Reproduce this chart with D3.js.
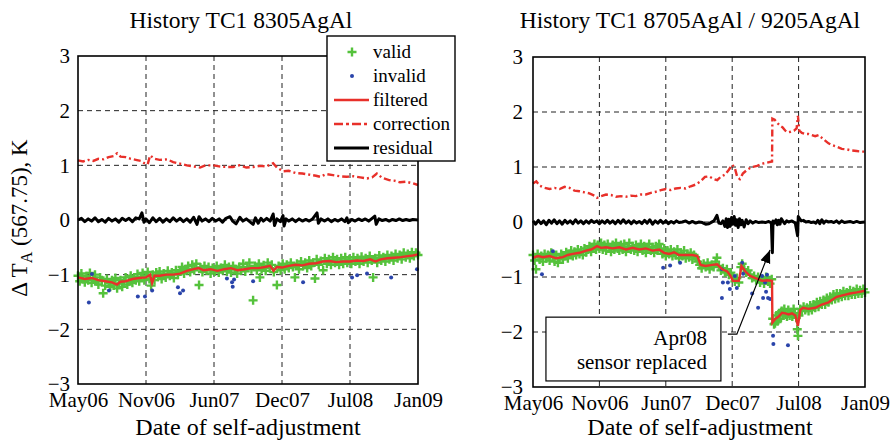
<!DOCTYPE html>
<html lang="en">
<head>
<meta charset="UTF-8">
<title>History TC1</title>
<script src="https://d3js.org/d3.v7.min.js"></script>
<style>
  body { margin: 0; background: #fff; }
  svg { font-family: "Liberation Serif", "Times New Roman", serif; }
  .grid line { stroke: #222; stroke-width: 1; stroke-dasharray: 5,4; }
  .axis text { font-family: "Liberation Serif", "Times New Roman", serif; font-size: 21px; fill: #000; }
</style>
</head>
<body>
<svg width="893" height="440"></svg>
<script>
// x values are days after 1 May 2006, ticks every 200 days
const tickDays = [0, 200, 400, 600, 800, 1000];
const tickLabels = ["May06", "Nov06", "Jun07", "Dec07", "Jul08", "Jan09"];
const yTicks = [-3, -2, -1, 0, 1, 2, 3];
const legendLabels = ["valid", "invalid", "filtered", "correction", "residual"];
const titles = ["History TC1 8305AgAl", "History TC1 8705AgAl / 9205AgAl"];

// ---- left panel
const leftCorrection = [[0,1.09],[15,1.07],[30,1.10],[45,1.08],[60,1.12],[75,1.11],[90,1.15],[105,1.17],[115,1.22],[125,1.16],[140,1.15],[155,1.12],[170,1.10],[185,1.08],[195,1.04],[205,1.02],[212,1.18],[225,1.12],[240,1.10],[262,1.11],[280,1.06],[300,1.03],[320,1.00],[340,0.98],[359,0.96],[375,1.00],[397,1.00],[415,0.98],[435,0.97],[456,0.97],[475,1.00],[495,0.96],[515,0.97],[535,0.99],[555,0.98],[574,1.04],[585,0.96],[603,0.89],[620,0.90],[640,0.86],[660,0.85],[680,0.83],[700,0.81],[712,0.79],[730,0.84],[750,0.82],[770,0.80],[790,0.79],[810,0.80],[830,0.78],[850,0.76],[865,0.78],[879,0.85],[895,0.77],[915,0.73],[930,0.72],[947,0.69],[965,0.70],[985,0.67],[1000,0.64]];

const leftResidual = [[0,0.0],[10,0.03],[20,-0.03],[30,0.02],[40,-0.02],[50,0.04],[60,-0.03],[70,0.01],[80,-0.04],[90,0.03],[100,-0.02],[110,0.02],[120,-0.04],[130,0.03],[140,-0.01],[150,0.03],[160,-0.03],[170,0.04],[180,0.02],[188,0.13],[194,-0.04],[200,0.02],[210,-0.05],[220,0.04],[230,-0.03],[240,0.03],[250,-0.04],[260,0.02],[270,-0.03],[280,0.04],[290,-0.02],[300,0.03],[310,-0.03],[320,0.02],[330,-0.04],[340,0.05],[350,-0.08],[356,0.06],[365,-0.02],[375,0.02],[385,-0.03],[395,0.03],[405,-0.02],[415,0.02],[425,-0.04],[435,0.03],[447,0.06],[455,-0.02],[465,-0.07],[476,0.05],[485,-0.02],[495,0.02],[505,-0.03],[515,-0.08],[522,0.04],[530,-0.06],[538,0.03],[545,-0.02],[555,0.03],[565,-0.02],[574,0.11],[578,-0.1],[585,0.02],[595,-0.03],[603,0.08],[606,-0.11],[612,0.02],[620,-0.02],[630,0.02],[640,-0.03],[650,0.02],[660,-0.02],[670,0.01],[680,-0.02],[690,0.02],[703,0.13],[707,-0.06],[715,0.02],[725,-0.02],[735,0.02],[745,-0.03],[755,0.01],[765,-0.02],[775,0.02],[785,-0.03],[791,0.04],[795,-0.05],[805,0.01],[815,-0.02],[825,0.02],[835,-0.01],[845,0.02],[855,-0.02],[865,0.03],[873,0.07],[877,-0.08],[885,0.02],[895,-0.01],[905,0.01],[915,-0.02],[925,0.01],[935,-0.01],[945,0.02],[955,-0.01],[965,0.01],[975,-0.01],[985,0.01],[1000,0.0]];

const leftFiltered = [[0,-1.05],[20,-1.08],[40,-1.06],[60,-1.10],[80,-1.12],[100,-1.14],[115,-1.18],[125,-1.13],[140,-1.12],[160,-1.08],[180,-1.06],[200,-1.05],[212,-1.0],[218,-1.15],[225,-1.02],[240,-1.02],[260,-1.0],[280,-1.0],[300,-0.98],[320,-0.93],[340,-0.9],[355,-0.88],[370,-0.92],[390,-0.9],[410,-0.93],[430,-0.9],[450,-0.88],[470,-0.92],[490,-0.9],[510,-0.88],[530,-0.88],[550,-0.86],[565,-0.84],[575,-0.93],[585,-0.86],[600,-0.87],[620,-0.84],[640,-0.82],[660,-0.83],[680,-0.8],[700,-0.79],[720,-0.76],[740,-0.75],[760,-0.77],[780,-0.76],[800,-0.76],[820,-0.74],[840,-0.75],[860,-0.72],[875,-0.76],[890,-0.72],[910,-0.7],[930,-0.69],[950,-0.68],[970,-0.66],[985,-0.65],[1000,-0.63]];

const leftValid = [[0,-1.02],[5,-1.12],[10,-0.98],[15,-1.08],[20,-1.14],[25,-1.03],[30,-1.1],[35,-0.97],[40,-1.15],[45,-1.06],[50,-1.0],[55,-1.12],[60,-1.18],[65,-1.05],[70,-1.1],[74,-1.34],[80,-1.2],[85,-1.08],[90,-1.15],[95,-1.22],[100,-1.1],[105,-1.2],[110,-1.06],[115,-1.25],[120,-1.16],[125,-1.1],[130,-1.22],[135,-1.12],[140,-1.05],[145,-1.18],[150,-1.12],[155,-1.02],[160,-1.15],[165,-1.06],[170,-1.1],[175,-0.99],[180,-1.12],[185,-1.04],[190,-0.97],[195,-1.1],[200,-1.02],[205,-0.95],[210,-1.08],[215,-1.2],[220,-1.0],[225,-1.1],[230,-0.96],[235,-1.04],[240,-0.94],[246,-1.08],[252,-0.98],[258,-1.05],[264,-0.93],[270,-1.02],[276,-0.96],[282,-1.06],[288,-0.92],[294,-1.0],[300,-0.94],[306,-0.86],[312,-0.98],[318,-0.9],[324,-0.84],[330,-0.95],[336,-0.82],[342,-0.92],[348,-0.8],[356,-1.19],[360,-0.87],[366,-0.95],[372,-0.84],[378,-0.92],[384,-0.86],[390,-0.98],[396,-0.88],[402,-0.94],[408,-0.84],[414,-0.96],[420,-0.88],[426,-0.92],[432,-0.82],[438,-0.94],[444,-0.86],[450,-0.96],[456,-0.84],[462,-0.9],[468,-0.98],[474,-0.86],[480,-0.92],[486,-0.8],[492,-0.94],[498,-0.86],[504,-0.78],[510,-0.9],[515,-1.47],[520,-0.84],[526,-0.92],[532,-0.8],[535,-1.05],[540,-0.9],[546,-0.83],[552,-0.93],[558,-0.78],[564,-0.88],[570,-0.82],[576,-0.95],[585,-1.19],[590,-0.84],[596,-0.92],[602,-0.8],[608,-0.9],[614,-0.82],[620,-0.88],[626,-0.78],[632,-0.86],[638,-1.05],[644,-0.8],[650,-0.9],[656,-0.76],[662,-0.84],[668,-0.78],[674,-0.88],[680,-0.74],[686,-0.84],[692,-0.78],[697,-1.07],[702,-0.72],[708,-0.82],[714,-0.75],[721,-0.92],[726,-0.7],[732,-0.8],[738,-0.72],[744,-0.82],[750,-0.68],[756,-0.78],[762,-0.72],[768,-0.82],[774,-0.7],[780,-0.8],[786,-0.68],[792,-0.78],[798,-0.72],[804,-0.8],[810,-0.68],[816,-0.76],[822,-0.7],[828,-0.8],[834,-0.67],[840,-0.76],[846,-0.7],[852,-0.78],[858,-0.66],[864,-0.74],[868,-1.05],[874,-0.7],[880,-0.78],[886,-0.65],[892,-0.74],[898,-0.68],[904,-0.76],[910,-0.64],[916,-0.72],[922,-0.66],[928,-0.74],[934,-0.62],[940,-0.7],[946,-0.64],[952,-0.72],[958,-0.6],[964,-0.68],[970,-0.62],[976,-0.7],[982,-0.59],[988,-0.66],[994,-0.6],[1000,-0.64]];

const leftInvalid = [[41,-0.99],[32,-1.51],[91,-1.29],[176,-1.40],[197,-1.40],[218,-1.29],[294,-1.23],[300,-1.34],[309,-1.29],[438,-1.07],[453,-1.14],[459,-1.09],[455,-1.22],[515,-1.12],[662,-1.14],[806,-1.05],[821,-1.01],[850,-0.98],[921,-1.05],[997,-0.9]];

// ---- right panel
const rightCorrection = [[0,0.70],[10,0.74],[20,0.66],[35,0.62],[50,0.60],[65,0.62],[80,0.60],[95,0.64],[110,0.62],[125,0.57],[140,0.56],[155,0.54],[170,0.52],[185,0.48],[193,0.44],[205,0.47],[220,0.50],[235,0.49],[250,0.46],[265,0.47],[280,0.46],[295,0.48],[310,0.47],[325,0.50],[340,0.50],[355,0.53],[370,0.55],[385,0.58],[400,0.60],[415,0.58],[430,0.61],[445,0.62],[460,0.61],[475,0.65],[490,0.68],[505,0.74],[518,0.82],[530,0.83],[545,0.78],[555,0.76],[565,0.82],[578,0.86],[590,0.95],[600,1.04],[608,0.98],[615,0.82],[623,0.78],[632,0.88],[645,0.95],[660,1.0],[675,1.02],[690,1.06],[705,1.08],[720,1.10],[721,1.88],[728,1.86],[736,1.80],[744,1.75],[752,1.72],[760,1.66],[768,1.63],[776,1.64],[786,1.66],[794,1.70],[798,1.93],[802,1.66],[810,1.62],[820,1.60],[830,1.60],[840,1.58],[850,1.56],[860,1.58],[870,1.53],[880,1.48],[890,1.43],[900,1.40],[915,1.37],[930,1.33],[945,1.32],[960,1.30],[975,1.29],[990,1.28],[1000,1.28]];

const rightResidual = [[0,0.02],[8,-0.04],[16,0.03],[24,-0.03],[32,0.02],[40,-0.05],[48,0.03],[56,-0.02],[64,0.04],[72,-0.03],[80,0.02],[88,-0.04],[96,0.03],[104,-0.02],[112,0.02],[120,-0.03],[128,0.04],[136,-0.02],[144,0.02],[152,-0.03],[160,0.02],[168,-0.02],[176,0.03],[184,-0.01],[192,0.02],[200,-0.03],[208,0.02],[216,-0.02],[224,0.03],[232,-0.02],[240,0.02],[248,-0.03],[256,0.03],[264,-0.02],[272,0.04],[280,-0.02],[288,0.02],[296,-0.03],[304,0.02],[312,-0.02],[320,0.01],[328,-0.03],[336,0.03],[344,-0.02],[352,0.04],[360,-0.04],[368,0.02],[376,-0.02],[384,0.03],[392,-0.02],[400,0.02],[408,-0.03],[416,0.01],[424,-0.02],[432,0.02],[440,-0.01],[450,0.0],[460,0.02],[470,-0.02],[480,0.01],[490,-0.02],[500,0.0],[510,-0.01],[520,-0.04],[530,-0.03],[545,0.02],[554,0.12],[560,-0.02],[566,-0.03],[572,0.02],[578,-0.08],[582,0.06],[586,-0.1],[590,0.05],[594,-0.08],[598,0.08],[602,-0.04],[606,0.1],[610,-0.06],[614,0.04],[618,-0.1],[622,0.06],[626,-0.05],[630,0.03],[636,-0.09],[642,0.04],[648,-0.03],[654,0.02],[662,-0.02],[670,0.01],[680,-0.01],[690,0.0],[700,-0.01],[710,0.01],[718,-0.02],[721,-0.56],[723,0.02],[728,-0.02],[732,0.04],[736,-0.05],[740,0.03],[744,-0.04],[748,0.06],[752,0.02],[758,-0.03],[764,0.02],[770,0.0],[780,0.02],[790,-0.02],[797,-0.25],[799,0.1],[803,0.06],[808,0.02],[815,0.03],[822,0.0],[830,0.01],[838,-0.01],[846,0.0],[852,-0.02],[858,0.03],[864,-0.03],[870,0.04],[876,-0.02],[882,0.02],[890,0.0],[898,0.01],[906,-0.01],[914,0.02],[922,-0.02],[930,0.02],[938,-0.01],[946,0.0],[955,0.01],[965,-0.01],[975,0.01],[985,-0.01],[1000,0.0]];

const rightFiltered = [[0,-0.65],[15,-0.62],[30,-0.64],[50,-0.62],[70,-0.66],[90,-0.64],[105,-0.6],[120,-0.58],[140,-0.56],[160,-0.52],[175,-0.5],[193,-0.44],[205,-0.47],[220,-0.46],[240,-0.48],[260,-0.46],[280,-0.5],[300,-0.47],[320,-0.5],[340,-0.48],[360,-0.52],[380,-0.5],[395,-0.56],[410,-0.58],[425,-0.55],[440,-0.6],[460,-0.6],[480,-0.6],[495,-0.62],[505,-0.78],[520,-0.8],[540,-0.78],[555,-0.77],[570,-0.86],[585,-0.9],[595,-0.98],[602,-1.07],[620,-1.07],[628,-0.8],[640,-0.9],[654,-0.98],[670,-1.02],[690,-1.07],[705,-1.06],[720,-1.07],[721,-1.83],[730,-1.76],[740,-1.72],[750,-1.65],[760,-1.66],[770,-1.68],[780,-1.66],[790,-1.7],[798,-1.89],[805,-1.6],[813,-1.56],[830,-1.58],[850,-1.56],[870,-1.5],[890,-1.46],[900,-1.42],[915,-1.36],[935,-1.33],[955,-1.3],[975,-1.28],[1000,-1.25]];

const rightValid = [[0,-0.6],[5,-0.7],[9,-0.86],[14,-0.58],[20,-0.68],[25,-0.62],[30,-0.72],[35,-0.58],[40,-0.66],[45,-0.6],[50,-0.7],[55,-0.56],[60,-0.64],[65,-0.72],[70,-0.6],[75,-0.74],[80,-0.66],[85,-0.58],[90,-0.68],[95,-0.62],[100,-0.55],[105,-0.66],[110,-0.58],[115,-0.52],[120,-0.62],[125,-0.54],[130,-0.6],[135,-0.5],[140,-0.58],[145,-0.52],[150,-0.6],[155,-0.48],[160,-0.55],[165,-0.5],[170,-0.44],[175,-0.54],[180,-0.46],[185,-0.4],[190,-0.5],[195,-0.42],[200,-0.48],[205,-0.38],[210,-0.5],[215,-0.42],[220,-0.52],[225,-0.4],[230,-0.46],[235,-0.54],[240,-0.42],[245,-0.5],[250,-0.38],[255,-0.48],[260,-0.52],[265,-0.42],[270,-0.5],[275,-0.4],[280,-0.54],[285,-0.45],[290,-0.38],[295,-0.5],[300,-0.44],[305,-0.52],[310,-0.42],[315,-0.54],[320,-0.46],[325,-0.4],[330,-0.52],[335,-0.44],[340,-0.56],[345,-0.46],[350,-0.4],[355,-0.52],[360,-0.46],[365,-0.56],[370,-0.44],[375,-0.52],[380,-0.4],[385,-0.5],[390,-0.58],[395,-0.48],[400,-0.62],[405,-0.52],[410,-0.58],[415,-0.5],[420,-0.62],[425,-0.54],[430,-0.6],[435,-0.5],[440,-0.66],[445,-0.56],[450,-0.62],[455,-0.52],[460,-0.66],[465,-0.58],[470,-0.64],[475,-0.56],[480,-0.68],[485,-0.6],[490,-0.64],[496,-0.72],[502,-0.78],[508,-0.84],[514,-0.76],[520,-0.82],[526,-0.74],[532,-0.86],[538,-0.78],[544,-0.82],[550,-0.72],[554,-0.65],[560,-0.8],[566,-0.88],[572,-0.84],[578,-0.92],[584,-0.86],[590,-0.96],[596,-0.92],[602,-1.0],[608,-1.08],[614,-1.02],[620,-1.1],[626,-0.82],[630,-0.76],[636,-0.86],[642,-0.92],[648,-0.88],[654,-0.96],[660,-1.02],[666,-0.98],[672,-1.06],[678,-1.0],[684,-1.1],[690,-1.04],[696,-1.12],[702,-1.0],[708,-1.08],[714,-1.12],[719,-1.04],[722,-1.76],[726,-1.86],[729,-1.84],[733,-1.7],[737,-1.8],[741,-1.66],[745,-1.76],[749,-1.62],[753,-1.7],[757,-1.58],[761,-1.68],[765,-1.72],[769,-1.6],[773,-1.7],[777,-1.64],[781,-1.72],[785,-1.58],[789,-1.66],[793,-1.74],[796,-1.95],[798,-2.07],[801,-1.7],[805,-1.58],[810,-1.62],[815,-1.54],[820,-1.6],[825,-1.56],[830,-1.62],[835,-1.52],[840,-1.6],[845,-1.5],[850,-1.56],[855,-1.46],[860,-1.54],[865,-1.44],[870,-1.5],[875,-1.42],[880,-1.5],[885,-1.38],[890,-1.46],[895,-1.36],[900,-1.42],[905,-1.32],[910,-1.4],[915,-1.3],[920,-1.38],[925,-1.3],[930,-1.36],[935,-1.26],[940,-1.34],[945,-1.28],[950,-1.34],[955,-1.24],[960,-1.32],[965,-1.26],[970,-1.32],[975,-1.22],[980,-1.3],[985,-1.24],[990,-1.3],[995,-1.22],[1000,-1.28]];

const rightInvalid = [[27,-0.95],[60,-0.53],[392,-0.83],[413,-0.79],[443,-0.74],[569,-0.86],[572,-1.10],[569,-1.38],[587,-1.10],[593,-1.22],[608,-0.98],[614,-1.20],[630,-0.74],[633,-0.94],[660,-1.30],[678,-1.56],[690,-0.98],[693,-1.38],[699,-1.10],[702,-1.27],[705,-0.96],[708,-1.38],[714,-1.40],[723,-2.07],[724,-2.22],[768,-2.24]];

// annotation in data units (right panel)
const noteLines = ["Apr08", "sensor replaced"];
const noteBox = { d0: 39, d1: 566, v0: -1.73, v1: -2.89 };
const noteArrow = [[587, -2.04], [614, -2.04], [714, -0.51]];

const GREEN = "#55c23c", BLUE = "#2a44aa", RED = "#e8302a";

const svg = d3.select("svg");
svg.append("rect").attr("width", 893).attr("height", 440).attr("fill", "#fff");

const defs = svg.append("defs");
defs.append("marker")
    .attr("id", "arrow")
    .attr("viewBox", "0 0 10 10")
    .attr("refX", 10).attr("refY", 5)
    .attr("markerWidth", 13).attr("markerHeight", 13)
    .attr("markerUnits", "userSpaceOnUse")
    .attr("orient", "auto")
    .append("path").attr("d", "M0,1L10,5L0,9z").attr("fill", "#000");

function drawPanel(p) {
    const x = d3.scaleLinear().domain([0, 1000]).range([p.left, p.right]);
    const y = d3.scaleLinear().domain([-3, 3]).range([p.bottom, p.top]);
    const g = svg.append("g");

    // grid
    const grid = g.append("g").attr("class", "grid");
    grid.selectAll(".gx").data(tickDays.slice(1, -1)).enter().append("line")
        .attr("x1", d => x(d)).attr("x2", d => x(d))
        .attr("y1", p.top).attr("y2", p.bottom);
    grid.selectAll(".gy").data(yTicks.slice(1, -1)).enter().append("line")
        .attr("x1", p.left).attr("x2", p.right)
        .attr("y1", d => y(d)).attr("y2", d => y(d));

    // axes
    g.append("g").attr("class", "axis")
        .attr("transform", `translate(0,${p.bottom})`)
        .call(d3.axisBottom(x).tickValues(tickDays).tickFormat((d, i) => tickLabels[i]).tickSize(0).tickPadding(8))
        .call(a => a.select(".domain").remove());
    g.append("g").attr("class", "axis")
        .attr("transform", `translate(${p.left},0)`)
        .call(d3.axisLeft(y).tickValues(yTicks).tickFormat(d3.format("d")).tickSize(0).tickPadding(p.ypad))
        .call(a => a.select(".domain").remove());

    const line = d3.line().x(d => x(d[0])).y(d => y(d[1]));

    // valid
    g.append("g").selectAll("path").data(p.valid).enter().append("path")
        .attr("transform", d => `translate(${x(d[0])},${y(d[1])})`)
        .attr("d", "M-4.5,0H4.5M0,-4.5V4.5")
        .attr("stroke", GREEN).attr("stroke-width", 2.4);
    // invalid
    g.append("g").selectAll("circle").data(p.invalid).enter().append("circle")
        .attr("cx", d => x(d[0])).attr("cy", d => y(d[1])).attr("r", 2)
        .attr("fill", BLUE);
    // filtered
    g.append("path").datum(p.filtered).attr("d", line)
        .attr("fill", "none").attr("stroke", RED).attr("stroke-width", 2.4);
    // correction
    g.append("path").datum(p.correction).attr("d", line)
        .attr("fill", "none").attr("stroke", RED).attr("stroke-width", 2.4)
        .attr("stroke-dasharray", "7,3,2,3");
    // residual
    g.append("path").datum(p.residual).attr("d", line)
        .attr("fill", "none").attr("stroke", "#000").attr("stroke-width", 3)
        .attr("stroke-linejoin", "round");

    // frame
    g.append("rect")
        .attr("x", p.left).attr("y", p.top)
        .attr("width", p.right - p.left).attr("height", p.bottom - p.top)
        .attr("fill", "none").attr("stroke", "#000").attr("stroke-width", 1.6);

    g.append("text")
        .attr("x", p.titleX).attr("y", 28)
        .attr("text-anchor", "middle").attr("font-size", 23.5)
        .text(p.title);
    g.append("text")
        .attr("x", p.labelX).attr("y", 435)
        .attr("text-anchor", "middle").attr("font-size", 24)
        .text("Date of self-adjustment");

    return { x, y, g };
}

const L = drawPanel({ left: 78, right: 418, top: 56, bottom: 384, ypad: 8,
    title: titles[0], titleX: 241, labelX: 248,
    valid: leftValid, invalid: leftInvalid, filtered: leftFiltered,
    correction: leftCorrection, residual: leftResidual });

const R = drawPanel({ left: 533, right: 865, top: 57, bottom: 387, ypad: 10,
    title: titles[1], titleX: 690, labelX: 700,
    valid: rightValid, invalid: rightInvalid, filtered: rightFiltered,
    correction: rightCorrection, residual: rightResidual });

// y label
const yl = svg.append("text")
    .attr("transform", "translate(27,218) rotate(-90)")
    .attr("text-anchor", "middle").attr("font-size", 23);
yl.append("tspan").text("\u0394 T");
yl.append("tspan").attr("font-size", 16).attr("dy", 5).text("A");
yl.append("tspan").attr("dy", -5).text(" (567.75), K");

// legend
const lg = svg.append("g").attr("transform", "translate(327,36)");
lg.append("rect").attr("width", 128).attr("height", 125)
    .attr("fill", "#fff").attr("stroke", "#000").attr("stroke-width", 1.4);
legendLabels.forEach((lab, i) => {
    const yy = 16 + i * 24;
    const it = lg.append("g").attr("transform", `translate(0,${yy})`);
    if (i === 0) {
        it.append("path").attr("d", "M20.5,0H29.5M25,-4.5V4.5")
            .attr("stroke", GREEN).attr("stroke-width", 2.4);
    } else if (i === 1) {
        it.append("circle").attr("cx", 25).attr("r", 2).attr("fill", BLUE);
    } else {
        it.append("line").attr("x1", 7).attr("x2", 42)
            .attr("stroke", i === 4 ? "#000" : RED)
            .attr("stroke-width", i === 4 ? 2.8 : 2.4)
            .attr("stroke-dasharray", i === 3 ? "9,3,3,3" : null);
    }
    it.append("text").attr("x", 46).attr("y", 6).attr("font-size", 19).text(lab);
});

// annotation
const nb = noteBox;
R.g.append("rect")
    .attr("x", R.x(nb.d0)).attr("y", R.y(nb.v0))
    .attr("width", R.x(nb.d1) - R.x(nb.d0)).attr("height", R.y(nb.v1) - R.y(nb.v0))
    .attr("fill", "#fff").attr("stroke", "#000").attr("stroke-width", 1.2);
noteLines.forEach((t, i) => {
    R.g.append("text")
        .attr("x", R.x(nb.d1) - 14).attr("y", R.y(nb.v0) + 28 + i * 24)
        .attr("text-anchor", "end").attr("font-size", 21).text(t);
});
R.g.append("path").datum(noteArrow)
    .attr("d", d3.line().x(d => R.x(d[0])).y(d => R.y(d[1])))
    .attr("fill", "none").attr("stroke", "#000").attr("stroke-width", 1.2)
    .attr("marker-end", "url(#arrow)");
</script>
</body>
</html>
